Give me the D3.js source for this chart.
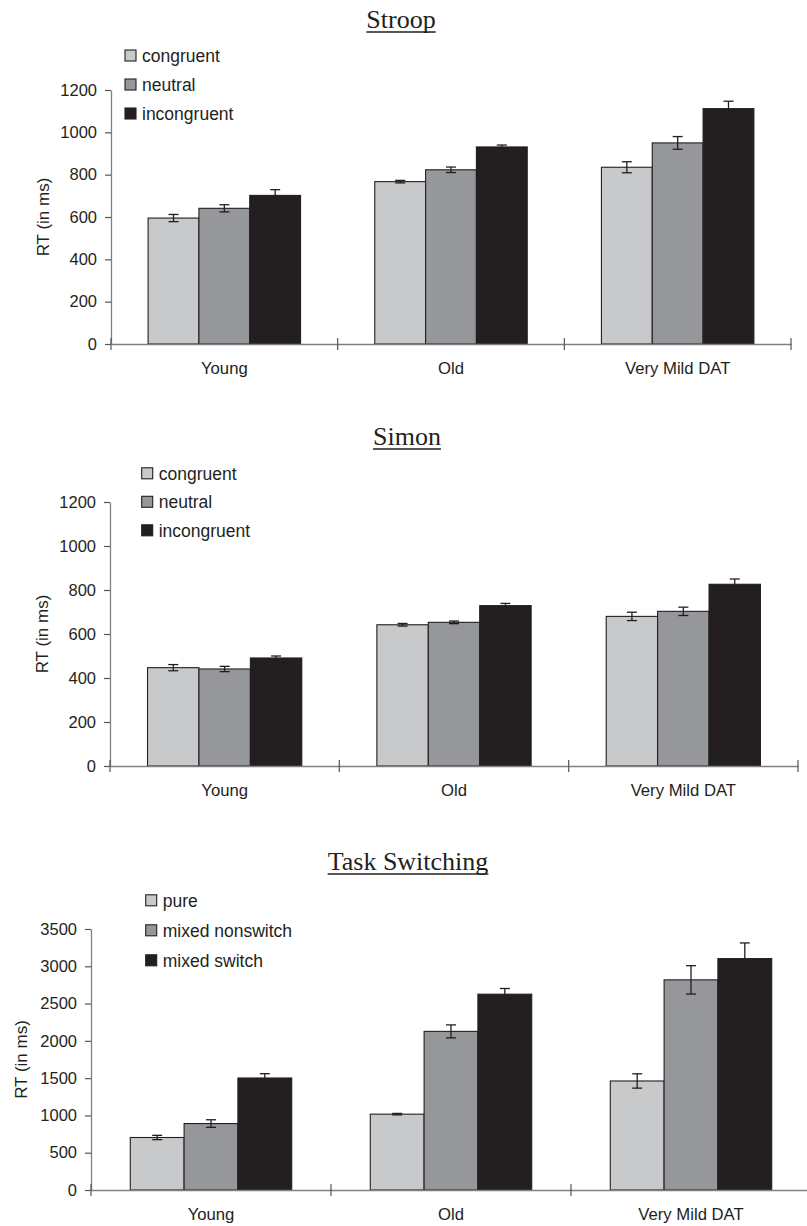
<!DOCTYPE html>
<html>
<head>
<meta charset="utf-8">
<script src="https://cdn.jsdelivr.net/npm/d3@7"></script>
<style>
  body { margin: 0; background: #fff; }
  svg text { fill: #231f20; }
</style>
</head>
<body>
<svg id="chart" width="807" height="1226"></svg>
<script>
// groups on the x axis
var groups = ["Young", "Old", "Very Mild DAT"];

// Stroop
var stroopSeries = ["congruent", "neutral", "incongruent"];
var stroopMeans  = [[595, 641, 702], [767, 823, 931], [835, 950, 1112]];
var stroopErrors = [[17, 17, 27], [6, 13, 9], [26, 30, 35]];
var stroopTicks  = [0, 200, 400, 600, 800, 1000, 1200];

// Simon
var simonSeries = ["congruent", "neutral", "incongruent"];
var simonMeans  = [[447, 441, 491], [642, 653, 729], [680, 703, 826]];
var simonErrors = [[14, 12, 9], [6, 6, 10], [19, 19, 24]];
var simonTicks  = [0, 200, 400, 600, 800, 1000, 1200];

// Task switching
var switchSeries = ["pure", "mixed nonswitch", "mixed switch"];
var switchMeans  = [[704, 891, 1502], [1017, 2127, 2626], [1462, 2818, 3103]];
var switchErrors = [[29, 51, 58], [10, 87, 76], [96, 190, 210]];
var switchTicks  = [0, 500, 1000, 1500, 2000, 2500, 3000, 3500];

var barColors = ["#c8c9cb", "#96979b", "#231f20"];
var sans = "'Liberation Sans', Arial, sans-serif";
var serif = "'Liberation Serif', 'Times New Roman', serif";

var svg = d3.select("#chart");

var panels = [
  {title: "Stroop", series: stroopSeries, means: stroopMeans, errors: stroopErrors, ticks: stroopTicks,
   left: 111, right: 791, top: 90, bottom: 344, titleX: 401, titleY: 28,
   legX: 125, legY: 55.5, legStep: 29, labX: 43},
  {title: "Simon", series: simonSeries, means: simonMeans, errors: simonErrors, ticks: simonTicks,
   left: 110, right: 798, top: 502, bottom: 766, titleX: 407, titleY: 445,
   legX: 141.7, legY: 473.3, legStep: 28.5, labX: 42},
  {title: "Task Switching", series: switchSeries, means: switchMeans, errors: switchErrors, ticks: switchTicks,
   left: 91, right: 811, top: 929, bottom: 1190, titleX: 408, titleY: 870,
   legX: 145.7, legY: 900.3, legStep: 30, labX: 21}
];

panels.forEach(function(p) {
  var g = svg.append("g");
  var yMax = d3.max(p.ticks);

  var x0 = d3.scaleBand().domain(groups).range([p.left, p.right]).padding(0);
  var x1 = d3.scaleBand().domain(p.series).range([0, x0.bandwidth()])
    .paddingInner(0).paddingOuter(0.73);
  var y = d3.scaleLinear().domain([0, yMax]).range([p.bottom, p.top]);

  // bars
  groups.forEach(function(grp, gi) {
    p.series.forEach(function(s, si) {
      var v = p.means[gi][si];
      g.append("rect")
        .attr("x", x0(grp) + x1(s))
        .attr("y", y(v))
        .attr("width", x1.bandwidth())
        .attr("height", y(0) - y(v))
        .attr("fill", barColors[si])
        .attr("stroke", "#231f20")
        .attr("stroke-width", 1.1);
    });
  });

  // error bars
  groups.forEach(function(grp, gi) {
    p.series.forEach(function(s, si) {
      var v = p.means[gi][si], e = p.errors[gi][si];
      var cx = x0(grp) + x1(s) + x1.bandwidth() / 2;
      var eb = g.append("g").attr("stroke", "#231f20").attr("stroke-width", 1.3);
      eb.append("line").attr("x1", cx).attr("x2", cx).attr("y1", y(v + e)).attr("y2", y(v - e));
      eb.append("line").attr("x1", cx - 5).attr("x2", cx + 5).attr("y1", y(v + e)).attr("y2", y(v + e));
      eb.append("line").attr("x1", cx - 5).attr("x2", cx + 5).attr("y1", y(v - e)).attr("y2", y(v - e));
    });
  });

  // y axis
  var yAxis = g.append("g")
    .attr("transform", "translate(" + p.left + ",0)")
    .call(d3.axisLeft(y).tickValues(p.ticks).tickFormat(d3.format("d"))
      .tickSize(6).tickSizeOuter(0).tickPadding(8));
  yAxis.select(".domain").attr("stroke", "#808080").attr("stroke-width", 1.3);
  yAxis.selectAll(".tick line").attr("stroke", "#555").attr("stroke-width", 1.2);
  yAxis.selectAll(".tick text").style("font-family", sans).style("font-size", "16.5px").attr("fill", "#231f20");

  // x axis
  var xAxis = g.append("g")
    .attr("transform", "translate(0," + p.bottom + ")")
    .call(d3.axisBottom(x0).tickSize(0).tickSizeOuter(0).tickPadding(0));
  xAxis.select(".domain").attr("stroke", "#808080").attr("stroke-width", 1.3);
  xAxis.selectAll(".tick text")
    .attr("y", 30).attr("dy", 0)
    .style("font-family", sans).style("font-size", "16.7px").attr("fill", "#231f20");

  var bounds = groups.map(function(grp) { return x0(grp); }).concat([x0.range()[1]]);
  g.selectAll(".cattick").data(bounds).enter().append("line")
    .attr("x1", function(d) { return d; }).attr("x2", function(d) { return d; })
    .attr("y1", p.bottom - 6).attr("y2", p.bottom + 6)
    .attr("stroke", "#555").attr("stroke-width", 1.2);

  // y label
  g.append("text")
    .attr("transform", "translate(" + p.labX + "," + ((p.top + p.bottom) / 2) + ") rotate(-90)")
    .attr("text-anchor", "middle")
    .attr("dy", "0.35em")
    .style("font-family", sans).style("font-size", "17px")
    .text("RT (in ms)");

  // title with underline
  var t = g.append("text")
    .attr("x", p.titleX).attr("y", p.titleY)
    .attr("text-anchor", "middle")
    .style("font-family", serif).style("font-size", "26px")
    .text(p.title);
  var tw = t.node().getComputedTextLength();
  g.append("line")
    .attr("x1", p.titleX - tw / 2).attr("x2", p.titleX + tw / 2)
    .attr("y1", p.titleY + 4).attr("y2", p.titleY + 4)
    .attr("stroke", "#231f20").attr("stroke-width", 1.3);

  // legend
  var leg = g.selectAll(".leg").data(p.series).enter().append("g")
    .attr("transform", function(d, i) { return "translate(" + p.legX + "," + (p.legY + i * p.legStep) + ")"; });
  leg.append("rect")
    .attr("x", 0).attr("y", -5.5).attr("width", 11).attr("height", 11)
    .attr("fill", function(d, i) { return barColors[i]; })
    .attr("stroke", "#231f20").attr("stroke-width", 1.1);
  leg.append("text")
    .attr("x", 17).attr("y", 6.5)
    .style("font-family", sans).style("font-size", "17.5px")
    .text(function(d) { return d; });
});
</script>
</body>
</html>
